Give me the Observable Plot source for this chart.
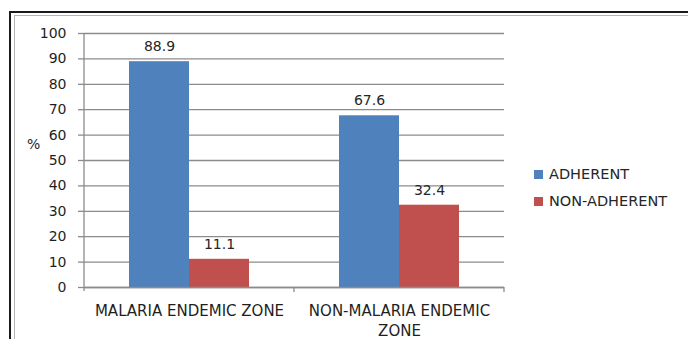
<!DOCTYPE html>
<html>
<head>
<meta charset="utf-8">
<script src="https://cdn.jsdelivr.net/npm/d3@7"></script>
<script src="https://cdn.jsdelivr.net/npm/@observablehq/plot@0.6"></script>
<style>
  html, body { margin: 0; padding: 0; background: #fff; }
  #wrap { position: relative; width: 688px; height: 339px; overflow: hidden; font-family: "DejaVu Sans", sans-serif; }
  .frame1 { position: absolute; left: 9px; top: 11px; width: 800px; height: 400px; border-top: 2px solid #1a1a1a; border-left: 2px solid #1a1a1a; }
  .frame2 { position: absolute; left: 14px; top: 15px; width: 800px; height: 400px; border-top: 1px solid #b5b5b5; border-left: 1px solid #b5b5b5; }
  #chart { position: absolute; left: 0; top: 0; }
  .ylab { position: absolute; left: 27px; top: 136px; font-size: 14px; color: #262626; }
  #legend { position: absolute; left: 534px; top: 164px; font-size: 14.5px; color: #262626; }
  #legend .row { display: flex; align-items: center; height: 20px; margin-bottom: 7px; }
  #legend .sw { width: 9px; height: 9px; margin-right: 6px; }
</style>
</head>
<body>
<div id="wrap">
  <div class="frame1"></div>
  <div class="frame2"></div>
  <div id="chart"></div>
  <div class="ylab">%</div>
  <div id="legend"></div>
</div>
<script>
const categories = ["MALARIA ENDEMIC ZONE", "NON-MALARIA ENDEMIC ZONE"];
const categoryLabels = ["MALARIA ENDEMIC ZONE", "NON-MALARIA ENDEMIC\nZONE"];
const series = ["ADHERENT", "NON-ADHERENT"];
const adherent = [88.9, 67.6];
const nonAdherent = [11.1, 32.4];
const colors = ["#4F81BD", "#C0504D"];
const yTicks = [0, 10, 20, 30, 40, 50, 60, 70, 80, 90, 100];

const data = categories.flatMap((c, i) => [
  {cat: c, series: series[0], value: adherent[i]},
  {cat: c, series: series[1], value: nonAdherent[i]}
]);

const gridColor = "#8c8c8c";

const plot = Plot.plot({
  width: 688,
  height: 339,
  marginLeft: 84,
  marginRight: 184,
  marginTop: 33,
  marginBottom: 52,
  style: {fontFamily: "DejaVu Sans, sans-serif", fontSize: "14px", color: "#262626", background: "transparent"},
  fx: {domain: categories, paddingInner: 0, paddingOuter: 0, label: null},
  x: {domain: series, paddingInner: 0, paddingOuter: 0.75, axis: null},
  y: {domain: [0, 100], label: null},
  color: {domain: series, range: colors},
  marks: [
    Plot.gridY(yTicks, {stroke: gridColor, strokeOpacity: 1, strokeWidth: 1.3}),
    Plot.axisY(yTicks, {tickSize: 6, tickPadding: 12, stroke: gridColor, strokeWidth: 1.3, label: null, fill: "#1f1f1f", fontSize: 14}),
    Plot.barY(data, {fx: "cat", x: "series", y: "value", fill: "series"}),
    Plot.text(data, {fx: "cat", x: "series", y: "value", text: d => d.value.toFixed(1), dy: -15, fill: "#262626", fontSize: 14}),
    Plot.axisFx({anchor: "bottom", tickSize: 0, tickPadding: 15, label: null, fontSize: 15, fill: "#1f1f1f", lineHeight: 1.3,
      tickFormat: d => categoryLabels[categories.indexOf(d)]}),
    Plot.ruleY([0], {stroke: gridColor, strokeWidth: 1.3})
  ]
});

document.getElementById("chart").appendChild(plot);

// axis line and category boundary ticks, from the plot's own scales
const ys = plot.scale("y");
const fxs = plot.scale("fx");
const svg = d3.select(plot);
const y0 = ys.apply(0), y100 = ys.apply(100);
const xLeft = fxs.apply(categories[0]);
svg.append("line").attr("x1", xLeft).attr("x2", xLeft).attr("y1", y100).attr("y2", y0 + 4)
  .attr("stroke", gridColor).attr("stroke-width", 1.3);
categories.forEach(c => {
  const xb = fxs.apply(c) + fxs.bandwidth;
  svg.append("line").attr("x1", xb).attr("x2", xb).attr("y1", y0).attr("y2", y0 + 5)
    .attr("stroke", gridColor).attr("stroke-width", 1.3);
});

// legend
const legend = d3.select("#legend");
series.forEach((s, i) => {
  const row = legend.append("div").attr("class", "row");
  row.append("div").attr("class", "sw").style("background", colors[i]);
  row.append("span").text(s);
});
</script>
</body>
</html>
